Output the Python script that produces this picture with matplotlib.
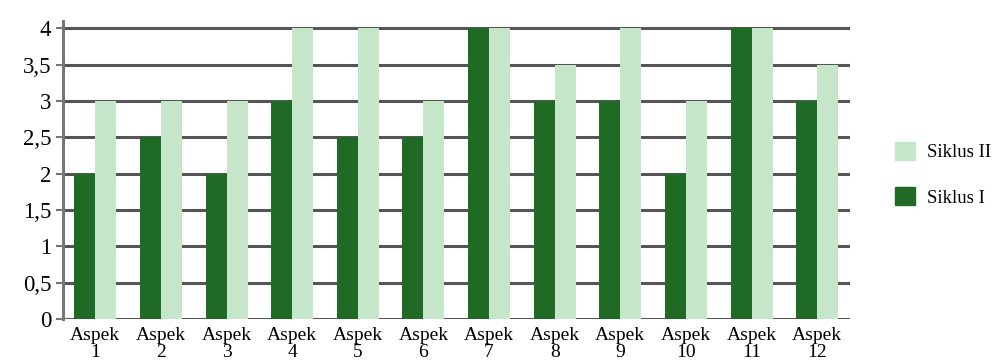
import numpy as np
import matplotlib
matplotlib.use("Agg")
import matplotlib.pyplot as plt
from matplotlib.patches import Patch

categories = [f"Aspek\n{i}" for i in range(1, 13)]
siklus_1 = [2, 2.5, 2, 3, 2.5, 2.5, 4, 3, 3, 2, 4, 3]
siklus_2 = [3, 3, 3, 4, 4, 3, 4, 3.5, 4, 3, 4, 3.5]
yticks = [0, 0.5, 1, 1.5, 2, 2.5, 3, 3.5, 4]
ytick_labels = ["0", "0,5", "1", "1,5", "2", "2,5", "3", "3,5", "4"]

dark = "#1f6a24"
light = "#c5e6c8"
grid = "#555555"

plt.rcParams["font.family"] = ["Liberation Serif", "DejaVu Serif"]

fig = plt.figure(figsize=(9.93, 3.63), dpi=100)
ax = fig.add_axes([0.063, 0.1212, 0.793, 0.821])

x = np.arange(len(categories))
w = 0.32
ax.bar(x - w / 2, siklus_1, w, color=dark, zorder=3)
ax.bar(x + w / 2, siklus_2, w, color=light, zorder=3)

ax.set_xlim(-0.5, len(categories) - 0.5)
ax.set_ylim(0, 4.1)
ax.set_yticks(yticks, ytick_labels, fontsize=16.5)
ax.set_xticks(x, categories, fontsize=14, linespacing=1.0)
ax.yaxis.grid(True, color=grid, linewidth=2.2, zorder=0)
ax.set_axisbelow(True)

for s in ("top", "right", "bottom"):
    ax.spines[s].set_visible(False)
ax.spines["left"].set_color("#777777")
ax.spines["left"].set_linewidth(2.2)
ax.tick_params(axis="y", length=5, width=1.5, color="#777777", pad=3)
ax.tick_params(axis="x", length=0, pad=6)

handles = [Patch(color=light, label="Siklus II"), Patch(color=dark, label="Siklus I")]
fig.legend(handles=handles, loc="center left", bbox_to_anchor=(0.884, 0.52),
           frameon=False, fontsize=13.5, handlelength=1.1, handleheight=1.1,
           labelspacing=1.4, handletextpad=0.6)

fig.savefig("out.png", dpi=100)
